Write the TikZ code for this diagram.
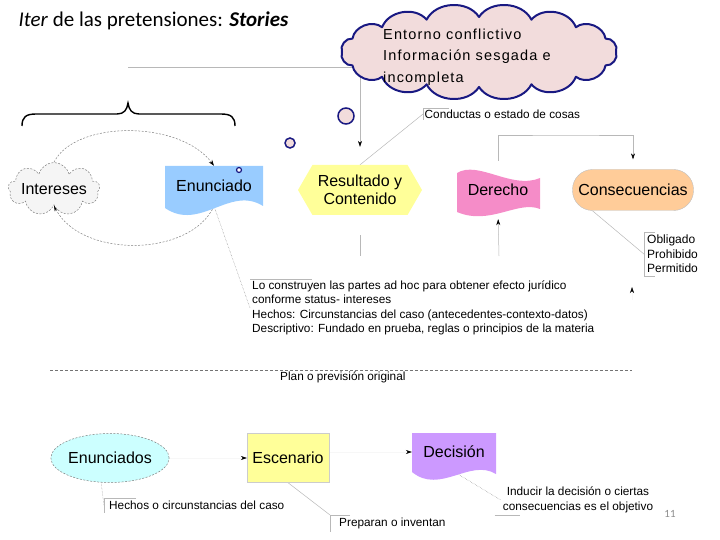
\documentclass[tikz,border=0pt]{standalone}
\usepackage{fontspec}
\setmainfont{Liberation Sans}
\newfontfamily\calibri{Carlito}
\newfontfamily\espaciada[LetterSpace=8]{Liberation Sans}
\usetikzlibrary{arrows.meta,shapes.symbols,shapes.geometric,backgrounds}
\definecolor{azul}{RGB}{153,204,255}
\definecolor{amarillo}{RGB}{255,255,153}
\definecolor{rosa}{RGB}{245,140,200}
\definecolor{naranja}{RGB}{255,204,153}
\definecolor{lila}{RGB}{204,153,255}
\definecolor{celeste}{RGB}{204,255,255}
\definecolor{nubefondo}{RGB}{242,220,220}
\definecolor{marino}{RGB}{25,25,130}

\begin{document}
\begin{tikzpicture}[x=1pt,y=-1pt,>={Stealth[length=6pt,width=4pt,black]},
  caja/.style={font=\fontsize{16}{18.5}\selectfont,inner sep=0pt,align=center},
  nota/.style={font=\fontsize{11.8}{13.5}\selectfont,inner sep=2pt,align=left,anchor=north west},
  linea/.style={black!28,line width=0.5pt},
  guia/.style={black!50,line width=0.45pt,densely dotted},
  casi/.style={black!3,line width=0.5pt},
  curva/.style={black!50,line width=0.5pt,dash pattern=on 2pt off 1.5pt},
  borde nube/.style={fill=nubefondo,draw=marino,line width=2pt,line join=round},
  burbuja/.style={circle,draw=marino,fill=nubefondo,line width=1.5pt,inner sep=0pt}]

  \useasboundingbox (0,0) rectangle (720,540);

  % fondos con borde ondulado
  \fill[azul] (165,166) -- (263,166) -- (263,206) .. controls (230,185) and (200,232) .. (165,208) -- cycle;
  \fill[rosa] (457,173) .. controls (478,160) and (512,190) .. (540,178) -- (540,209) .. controls (518,200) and (490,226) .. (457,212) -- cycle;
  \fill[lila] (412,433) -- (496,433) -- (496,474) .. controls (470,458) and (440,495) .. (412,472) -- cycle;

  % nube
  \draw[borde nube] ({479+137*cos(0)},{52+35*sin(0)})
    \foreach \a in {22.5,45,...,360} { to[bend left=60] ({479+137*cos(\a)},{52+35*sin(\a)}) } -- cycle;

  \node[anchor=base west,font=\calibri\fontsize{21}{24}\selectfont] (titulo) at (15,27) {\textit{Iter} de las pretensiones: \textbf{\textit{Stories}}};

  \node[ellipse,minimum width=282,minimum height=95] (nube) at (479,52) {};
  \node[font=\espaciada\fontsize{14.5}{21.5}\selectfont,align=left,anchor=west,inner sep=0pt] (nubetxt) at (383,57) {Entorno conflictivo\\Información sesgada e\\incompleta};
  \node[burbuja,minimum size=16] (b1) at (346,116) {};
  \node[burbuja,minimum size=10] (b2) at (290,143) {};

  \node[cloud,cloud puffs=9,cloud ignores aspect,minimum width=87,minimum height=53,fill=black!4,draw=black!50,dash pattern=on 2pt off 1.5pt,line width=0.5pt,caja] (intereses) at (54,189) {Intereses};
  \node[caja,minimum width=98,minimum height=40] (enun) at (214,186) {Enunciado};
  \node[burbuja,minimum size=5,line width=1.2pt,fill=white] (b3) at (239,170) {};
  \node[caja,signal,signal to=west and east,signal pointer angle=120,fill=amarillo,minimum width=124,minimum height=50] (resul) at (360,190) {Resultado y\\Contenido};
  \node[caja,minimum width=83,minimum height=46] (derecho) at (498,190) {Derecho};
  \node[caja,rounded corners=20pt,draw=black!25,fill=naranja,minimum width=121,minimum height=41] (conse) at (633,190) {Consecuencias};

  \node[caja,ellipse,draw=black!50,dash pattern=on 2pt off 1.5pt,line width=0.5pt,fill=celeste,minimum width=106,minimum height=49] (enunciados) at (110,458) {Enunciados};
  \node[caja,draw=black!20,fill=amarillo,minimum width=82,minimum height=49] (escen) at (288,458) {Escenario};
  \node[caja,minimum width=84,minimum height=39] (decis) at (454,452) {Decisión};

  % notas
  \node[nota,inner sep=1.5pt] (conduc) at (423,108) {Conductas o estado de cosas};
  \node[nota] (nota1) at (250,279) {Lo construyen las partes ad hoc para obtener efecto jurídico\\conforme status- intereses\\[2pt]Hechos: Circunstancias del caso (antecedentes-contexto-datos)\\Descriptivo: Fundado en prueba, reglas o principios de la materia};
  \node[nota,inner sep=3pt,font=\fontsize{12}{14.5}\selectfont] (oblig) at (644,232) {Obligado\\Prohibido\\Permitido};
  \node[nota,inner sep=3pt,inner xsep=5pt] (hechos) at (104,498) {Hechos o circunstancias del caso};
  \node[nota,inner sep=3pt,inner xsep=9pt] (prep) at (330,515) {Preparan o inventan};
  \node[nota,anchor=center,align=center,font=\fontsize{11.8}{15}\selectfont] (induc) at (578,500) {Inducir la decisión o ciertas\\consecuencias es el objetivo};
  \node[nota,anchor=west] (plan) at (278,377) {Plan o previsión original};
  \node[font=\calibri\fontsize{11}{13}\selectfont,text=black!45] (num) at (670,514) {11};

  \coordinate (lin) at (128,67);
  \coordinate (codo) at (566,135);
  \coordinate (pie) at (499,256);
  \coordinate (q1) at (632,300);
  \coordinate (q2) at (632,287);

  % llave
  \draw[line width=1.4pt] (22,126) .. controls (22,117) and (26,114) .. (36,114) -- (117,114) .. controls (124,114) and (127,110) .. (128,103) .. controls (129,110) and (132,114) .. (139,114) -- (221,114) .. controls (231,114) and (235,117) .. (235,126);
  \draw[black!55,dash pattern=on 3pt off 2pt,line width=0.6pt] (50,370) -- (632,370);

  % bordes de las notas
  \draw[linea] ([xshift=26pt]conduc.north west) -- (conduc.north west) -- (conduc.south west);
  \draw[linea] (nota1.north west) -- ([xshift=62pt]nota1.north west);
  \draw[linea] ([xshift=11pt]oblig.north west) -- (oblig.north west) -- (oblig.south west) -- ([xshift=11pt]oblig.south west);
  \draw[linea] ([xshift=32pt]hechos.north west) -- (hechos.north west) -- (hechos.south west);
  \draw[linea] ([xshift=20pt]prep.north west) -- (prep.north west) -- (prep.south west);
  \draw[linea] ([xshift=-6pt]induc.south west) -- ([xshift=19pt]induc.south west);

  \begin{scope}[on background layer]
    \draw[linea] (lin) -- (lin -| nube.center);
    \draw[linea,->,shorten >=18pt] (resul.north |- nube.center) -- (resul.north);
    \draw[linea] (conduc.west) -- (resul.north);
    \draw[curva,->] (intereses.north) .. controls (75,120) and (180,120) .. (enun.north);
    \draw[curva,->] (enun.south) .. controls (190,258) and (80,258) .. (intereses.south);
    \draw[guia] (enun.south) -- (nota1.west);
    \draw[linea,->,shorten <=6pt,shorten >=10pt] (derecho.north) |- (codo) -| (conse.north);
    \draw[linea,->,shorten >=6pt] (pie) -- (derecho.south);
    \draw[linea,shorten <=20pt] (resul.south) -- (resul.south |- pie);
    \draw[linea] (conse.207) -- (oblig.west);
    \draw[casi,->] (q1) -- (q2);
    \draw[casi,->] (enunciados.east) -- (escen.west);
    \draw[casi,->] (escen.east |- decis.west) -- (decis.west);
    \draw[guia] (enunciados.250) -- (hechos.west);
    \draw[linea] (escen.south) -- (prep.north west);
    \draw[guia] (decis.south) -- (induc.west);
  \end{scope}
\end{tikzpicture}
\end{document}
